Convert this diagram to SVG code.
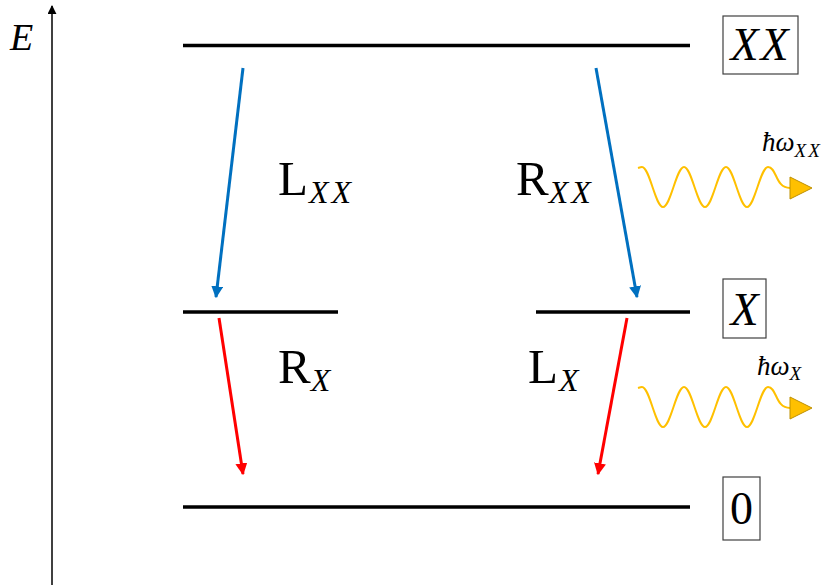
<svg xmlns="http://www.w3.org/2000/svg" width="833" height="585" viewBox="0 0 833 585">
<defs>
<marker id="ab" viewBox="0 0 10 10" refX="9" refY="5" markerWidth="4" markerHeight="4" orient="auto" markerUnits="strokeWidth"><path d="M0,0 L10,5 L0,10 z" fill="#0070C0"/></marker>
<marker id="ar" viewBox="0 0 10 10" refX="9" refY="5" markerWidth="4" markerHeight="4" orient="auto" markerUnits="strokeWidth"><path d="M0,0 L10,5 L0,10 z" fill="#FF0000"/></marker>
<marker id="ak" viewBox="0 0 10 10" refX="9" refY="5" markerWidth="6" markerHeight="6" orient="auto" markerUnits="strokeWidth"><path d="M0,0 L10,5 L0,10 z" fill="#000"/></marker>
</defs>
<style>
.lvl{stroke:#000;stroke-width:3.5;fill:none}
.box{fill:#fff;stroke:#404040;stroke-width:1.2}
.serif{font-family:"Liberation Serif","DejaVu Serif",serif;fill:#000}
.it{font-style:italic}
.sub{font-style:italic;font-size:32px;letter-spacing:3px}
.wave{fill:none;stroke:#FFC000;stroke-width:2}
.tri{fill:#FFC000;stroke:#BF9000;stroke-width:1}
.blue{stroke:#0070C0;stroke-width:3;fill:none;marker-end:url(#ab)}
.red{stroke:#FF0000;stroke-width:3;fill:none;marker-end:url(#ar)}
</style>
<rect width="833" height="585" fill="#fff"/>
<g id="axis">
<line x1="52" y1="585" x2="52" y2="6" stroke="#000" stroke-width="1.5" marker-end="url(#ak)"/>
<text x="10" y="50" class="serif it" font-size="38">E</text>
</g>
<g id="level-XX">
<line x1="183" y1="45.5" x2="690" y2="45.5" class="lvl"/>
<rect x="723" y="16" width="75" height="58" class="box"/>
<text x="760.5" y="60" class="serif it" font-size="46" text-anchor="middle" letter-spacing="2">XX</text>
</g>
<g id="level-X">
<line x1="183" y1="312" x2="338" y2="312" class="lvl"/>
<line x1="536" y1="312" x2="690" y2="312" class="lvl"/>
<rect x="723" y="279" width="43" height="59" class="box"/>
<text x="744.5" y="325" class="serif it" font-size="46" text-anchor="middle">X</text>
</g>
<g id="level-0">
<line x1="183" y1="507" x2="690" y2="507" class="lvl"/>
<rect x="723" y="477" width="37" height="63" class="box"/>
<text x="741.5" y="524" class="serif" font-size="46" text-anchor="middle">0</text>
</g>
<g id="connectors">
<line x1="243" y1="68" x2="216" y2="297" class="blue"/>
<line x1="596" y1="68" x2="637" y2="297" class="blue"/>
<line x1="219" y1="318" x2="243" y2="474" class="red"/>
<line x1="627" y1="318" x2="598" y2="474" class="red"/>
</g>
<g id="labels">
<text x="278" y="195" class="serif" font-size="49">L<tspan class="sub" dy="8" dx="1">XX</tspan></text>
<text x="516" y="195" class="serif" font-size="49">R<tspan class="sub" dy="8" dx="0">XX</tspan></text>
<text x="278" y="383" class="serif" font-size="49">R<tspan class="sub" dy="8" dx="0">X</tspan></text>
<text x="528" y="383" class="serif" font-size="49">L<tspan class="sub" dy="8" dx="1">X</tspan></text>
</g>
<g id="photon-XX">
<path class="wave" d="M638,168 C641,167 642,167 642,167 C649.6,167 655.4,207 663,207 C670.6,207 676.4,167 684,167 C691.6,167 697.4,207 705,207 C712.6,207 718.4,167 726,167 C733.6,167 739.4,207 747,207 C754.6,207 760.4,167 768,167 C777,167 775,188 790,188"/>
<path class="tri" d="M790,177 L812,188 L790,199 z"/>
<text x="762" y="151" class="serif it" font-size="27">ħω<tspan font-size="19" dy="6" letter-spacing="2">XX</tspan></text>
</g>
<g id="photon-X">
<path class="wave" d="M638,388 C641,387 642,387 642,387 C649.6,387 655.4,427 663,427 C670.6,427 676.4,387 684,387 C691.6,387 697.4,427 705,427 C712.6,427 718.4,387 726,387 C733.6,387 739.4,427 747,427 C754.6,427 760.4,387 768,387 C777,387 775,408 790,408"/>
<path class="tri" d="M790,397 L812,408 L790,419 z"/>
<text x="757" y="375" class="serif it" font-size="27">ħω<tspan font-size="19" dy="5">X</tspan></text>
</g>
</svg>
